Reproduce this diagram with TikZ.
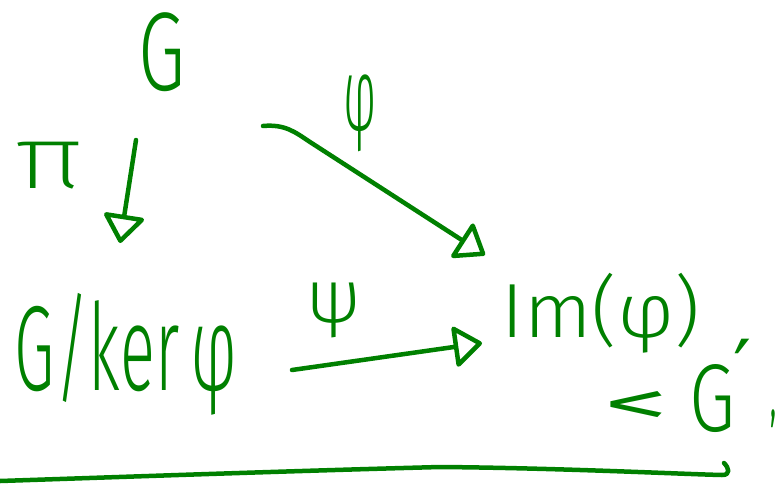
\documentclass[tikz,border=0pt]{standalone}
\usepackage{graphicx}
\usepackage{fontspec}
\setmainfont{Fira Sans Light}
\newfontfamily\penxlight{Fira Sans ExtraLight}
\newfontfamily\penreg{Fira Sans}
\newfontfamily\symfont{DejaVu Sans}
\usetikzlibrary{arrows.meta}
\definecolor{pen}{RGB}{0,128,0}
\tikzset{
  handtext/.style={text=pen, inner sep=0pt, outer sep=0pt},
  penline/.style={draw=pen, line width=4.5pt, line cap=round, line join=round},
  mapto/.style={penline, -{Triangle[open, length=30pt, width=44pt, round]}},
}
% fit a text into a box of given width and total height
\newcommand{\fitbox}[3]{\resizebox*{#1pt}{#2pt}{#3}}
\begin{document}
\begin{tikzpicture}[x=1pt, y=-1pt]
  \useasboundingbox (0,0) rectangle (781,485);

  % objects of the diagram
  \node[handtext] (G)    at (161.5,52.5) {\fitbox{47}{79}{G}};
  \node[handtext] (quot) at (126,354)    {\fitbox{222}{122}{G/ker\,φ}};
  \node[handtext] (img)  at (601,313)    {\fitbox{198}{80}{Im(φ)}};
  \node[handtext] (lt)   at (636,408)    {\fitbox{64}{33}{\penreg <}};
  \node[handtext, anchor=base west] (Gp) at (689,431)
    {\fitbox{46}{68}{G}\hspace{-2pt}\raisebox{34pt}{\fontsize{80}{80}\symfont ′}};
  \node[handtext] (cm)   at (773,419)    {\fitbox{6}{18}{\penreg ,}};

  % labels of the maps
  \node[handtext] (pilbl)  at (50,166)  {\fitbox{70}{47}{\penxlight π}};
  \node[handtext] (philbl) at (360,113) {\fitbox{33}{77}{φ}};
  \node[handtext] (psilbl) at (334,310) {\fitbox{55}{55}{ψ}};

  % end points of the maps
  \coordinate (piS)  at (136,140);
  \coordinate (piT)  at (120,243);
  \coordinate (phiS) at (263,126);
  \coordinate (phiT) at (485,255);
  \coordinate (psiS) at (292,370);
  \coordinate (psiT) at (482,343);

  \draw[mapto] (piS) -- (piT);
  \draw[mapto] (phiS) .. controls (285,124) and (295,132) .. (310,142) -- (phiT);
  \draw[mapto] (psiS) -- (psiT);

  % underline with a small hook at the right
  \coordinate (ulS) at (0,481);
  \coordinate (ulT) at (724,463);
  \draw[penline] (ulS) .. controls (150,476) and (290,471) .. (440,467)
    .. controls (560,468) and (680,474) .. (722,475)
    .. controls (731,475) and (729,468) .. (ulT);
\end{tikzpicture}
\end{document}
